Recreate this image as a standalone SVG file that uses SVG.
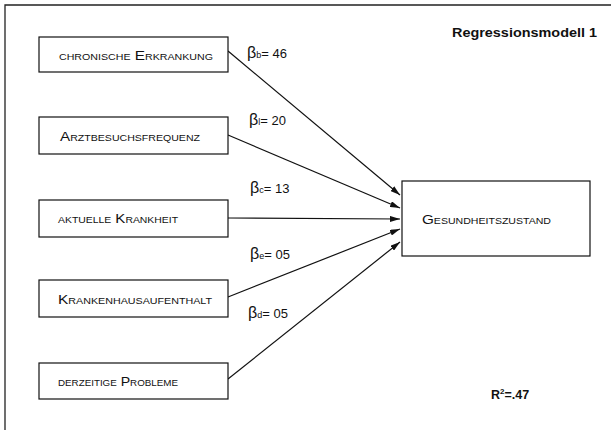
<svg xmlns="http://www.w3.org/2000/svg" width="611" height="430" viewBox="0 0 611 430">
<style>
.box{fill:#fff;stroke:#111;stroke-width:1.2}
.lbl{font-family:"Liberation Sans",Arial,sans-serif;font-size:13px;font-variant:small-caps;fill:#111}
.beta{font-family:"Liberation Sans",Arial,sans-serif;font-size:13px;fill:#111}
.bg{font-size:16px}
.sub{font-size:9px}
.bold{font-family:"Liberation Sans",Arial,sans-serif;font-size:12.5px;font-weight:bold;fill:#111}
.conn{stroke:#111;stroke-width:1.2;fill:none;marker-end:url(#arr)}
</style>
<defs>
<marker id="arr" viewBox="0 0 10 6" refX="10" refY="3" markerWidth="10" markerHeight="6" markerUnits="userSpaceOnUse" orient="auto">
<path d="M0,0 L10,3 L0,6 z" fill="#111"/>
</marker>
</defs>
<rect width="611" height="430" fill="#fff"/>
<path d="M5,430 V5 H611" stroke="#222" stroke-width="1.3" fill="none"/>
<text class="bold" x="452" y="37" textLength="145" lengthAdjust="spacingAndGlyphs">Regressionsmodell 1</text>
<text class="bold" x="491" y="399">R<tspan font-size="8" dy="-5">2</tspan><tspan dy="5">=.47</tspan></text>
<g id="connectors">
<line class="conn" x1="228" y1="51" x2="400" y2="195"/>
<line class="conn" x1="228" y1="135" x2="400" y2="208"/>
<line class="conn" x1="228" y1="218" x2="400" y2="219"/>
<line class="conn" x1="228" y1="297" x2="400" y2="229"/>
<line class="conn" x1="228" y1="379" x2="400" y2="242"/>
<text class="beta" x="247" y="58"><tspan class="bg">β</tspan><tspan class="sub">b</tspan>= 46</text>
<text class="beta" x="249" y="125"><tspan class="bg">β</tspan><tspan class="sub">l</tspan>= 20</text>
<text class="beta" x="250" y="193"><tspan class="bg">β</tspan><tspan class="sub">c</tspan>= 13</text>
<text class="beta" x="250" y="259"><tspan class="bg">β</tspan><tspan class="sub">e</tspan>= 05</text>
<text class="beta" x="248" y="318"><tspan class="bg">β</tspan><tspan class="sub">d</tspan>= 05</text>
</g>
<g id="n1"><rect class="box" x="39" y="37" width="189" height="35"/><text class="lbl" x="59" y="60" textLength="154" lengthAdjust="spacingAndGlyphs">chronische Erkrankung</text></g>
<g id="n2"><rect class="box" x="39" y="117" width="189" height="37"/><text class="lbl" x="60" y="141" textLength="140" lengthAdjust="spacingAndGlyphs">Arztbesuchsfrequenz</text></g>
<g id="n3"><rect class="box" x="39" y="200" width="189" height="37"/><text class="lbl" x="58" y="223" textLength="120" lengthAdjust="spacingAndGlyphs">aktuelle Krankheit</text></g>
<g id="n4"><rect class="box" x="39" y="280" width="189" height="37"/><text class="lbl" x="58" y="304" textLength="154" lengthAdjust="spacingAndGlyphs">Krankenhausaufenthalt</text></g>
<g id="n5"><rect class="box" x="39" y="363" width="189" height="36"/><text class="lbl" x="58" y="386" textLength="120" lengthAdjust="spacingAndGlyphs">derzeitige Probleme</text></g>
<g id="n6"><rect class="box" x="402" y="181" width="188" height="75"/><text class="lbl" x="422" y="224" textLength="129" lengthAdjust="spacingAndGlyphs">Gesundheitszustand</text></g>
</svg>
